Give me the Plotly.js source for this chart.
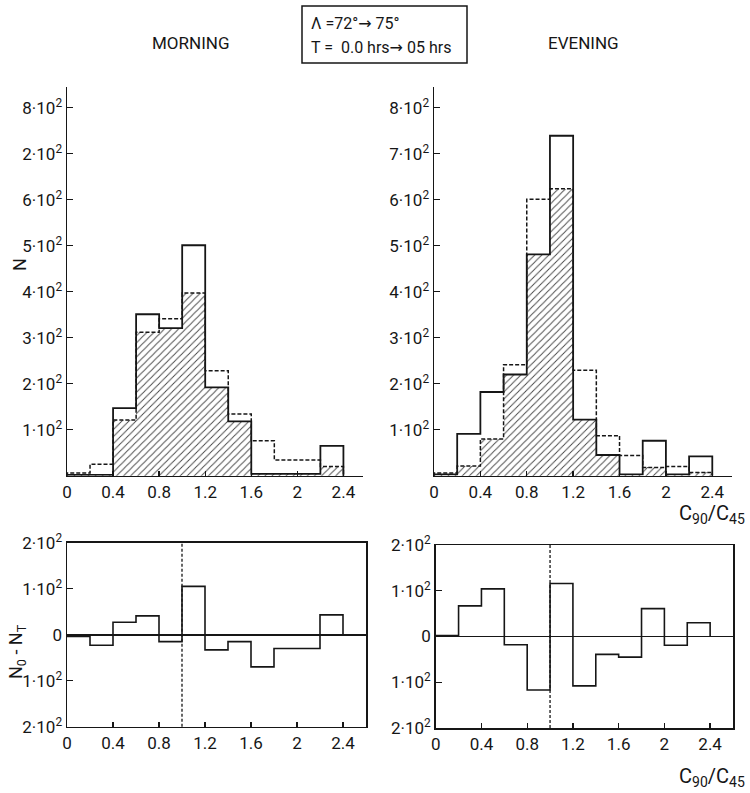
<!DOCTYPE html>
<html>
<head>
<meta charset="utf-8">
<script src="https://cdn.plot.ly/plotly-3.0.1.min.js"></script>
<style>html,body{margin:0;padding:0;background:#fff;}#chart{width:750px;height:793px;}</style>
</head>
<body>
<div id="chart"></div>
<script>
// ---- data ----
const binLeft = [0, 0.2, 0.4, 0.6, 0.8, 1.0, 1.2, 1.4, 1.6, 1.8, 2.0, 2.2];
const binWidth = 0.2;
const binEnd = 2.4;

const morningObserved    = [2, 2, 147, 351, 321, 501, 192, 118, 4, 4, 4, 65];
const morningTheoretical = [6, 25, 121, 312, 341, 397, 228, 134, 76, 34, 34, 20];
const morningOverlap     = [2, 2, 121, 312, 321, 397, 192, 118, 4, 4, 4, 20];

const eveningObserved    = [3, 91, 182, 220, 481, 739, 122, 45, 3, 76, 3, 42];
const eveningTheoretical = [6, 21, 80, 241, 601, 624, 229, 87, 44, 18, 20, 7];
const eveningOverlap     = [3, 21, 80, 220, 481, 624, 122, 45, 3, 18, 3, 7];

const morningDiff = [-4, -23, 27, 41, -15, 105, -33, -15, -70, -30, -30, 43];
const eveningDiff = [2, 67, 104, -18, -117, 116, -108, -39, -45, 61, -19, 30];

const referenceRatio = 1.0;

const xTickVals = [0, 0.4, 0.8, 1.2, 1.6, 2.0, 2.4];
const xTickText = ["0", "0.4", "0.8", "1.2", "1.6", "2", "2.4"];
const yTopVals = [100, 200, 300, 400, 500, 600, 700, 800];
const yTopTextMorning = ["1·10<sup>2</sup>", "2·10<sup>2</sup>", "3·10<sup>2</sup>", "4·10<sup>2</sup>", "5·10<sup>2</sup>", "6·10<sup>2</sup>", "2·10<sup>2</sup>", "8·10<sup>2</sup>"];
const yTopTextEvening = ["1·10<sup>2</sup>", "2·10<sup>2</sup>", "3·10<sup>2</sup>", "4·10<sup>2</sup>", "5·10<sup>2</sup>", "6·10<sup>2</sup>", "7·10<sup>2</sup>", "8·10<sup>2</sup>"];
const yBotVals = [-200, -100, 0, 100, 200];
const yBotText = ["2·10<sup>2</sup>", "1·10<sup>2</sup>", "0", "1·10<sup>2</sup>", "2·10<sup>2</sup>"];

// ---- helpers ----
const W = 750, H = 793;
const fx = p => p / W;
const fy = p => 1 - p / H;
const FONT = "Roboto, 'DejaVu Sans', sans-serif";
const INK = "#161616";

function stepX() { return [binLeft[0]].concat(binLeft).concat([binEnd]); }
function stepY(v) { return [0].concat(v).concat([0]); }

function hatchTrace(vals, xa, ya) {
  return {
    type: "bar", x: binLeft, y: vals, width: binWidth, offset: 0,
    xaxis: xa, yaxis: ya, showlegend: false, hoverinfo: "skip",
    marker: { color: "white", line: { width: 0 },
      pattern: { shape: "/", fgcolor: "#444", bgcolor: "white", size: 5, solidity: 0.18 } }
  };
}
function stepTrace(vals, xa, ya, dash, width) {
  return {
    type: "scatter", mode: "lines", x: stepX(), y: stepY(vals),
    xaxis: xa, yaxis: ya, showlegend: false, hoverinfo: "skip",
    line: { shape: "hv", color: INK, width: width, dash: dash }
  };
}

const data = [
  hatchTrace(morningOverlap, "x", "y"),
  stepTrace(morningTheoretical, "x", "y", "4px,2px", 1.5),
  stepTrace(morningObserved, "x", "y", "solid", 1.8),
  hatchTrace(eveningOverlap, "x2", "y2"),
  stepTrace(eveningTheoretical, "x2", "y2", "4px,2px", 1.5),
  stepTrace(eveningObserved, "x2", "y2", "solid", 1.8),
  stepTrace(morningDiff, "x3", "y3", "solid", 1.6),
  stepTrace(eveningDiff, "x4", "y4", "solid", 1.6)
];

const tickFont = { family: FONT, size: 17, color: INK };
function topX(domain, anchor) {
  return { domain: domain, anchor: anchor, range: [0, 2.57], showline: true, linecolor: INK, linewidth: 1.5,
    ticks: "inside", ticklen: 5, tickwidth: 1.3, tickcolor: INK, tickvals: xTickVals, ticktext: xTickText,
    tickfont: tickFont, showgrid: false, zeroline: false, fixedrange: true };
}
function topY(domain, anchor, text) {
  return { domain: domain, anchor: anchor, range: [0, 845], showline: true, linecolor: INK, linewidth: 1.5,
    ticks: "inside", ticklen: 6, tickwidth: 1.3, tickcolor: INK, tickvals: yTopVals, ticktext: text,
    tickfont: tickFont, showgrid: false, zeroline: false, fixedrange: true, ticklabelstandoff: 0 };
}
function botX(domain, anchor) {
  return { domain: domain, anchor: anchor, range: [0, 2.6], showline: true, mirror: true, linecolor: INK, linewidth: 1.5,
    ticks: "inside", ticklen: 5, tickwidth: 1.3, tickcolor: INK, tickvals: xTickVals, ticktext: xTickText,
    tickfont: tickFont, showgrid: false, zeroline: false, fixedrange: true };
}
function botY(domain, anchor) {
  return { domain: domain, anchor: anchor, range: [-200, 200], showline: true, mirror: true, linecolor: INK, linewidth: 1.5,
    ticks: "inside", ticklen: 6, tickwidth: 1.3, tickcolor: INK, tickvals: yBotVals, ticktext: yBotText,
    tickfont: tickFont, showgrid: false, zeroline: true, zerolinecolor: INK, zerolinewidth: 1.8, fixedrange: true,
    ticklabelstandoff: 0 };
}

const ann = (text, x, y, opts) => Object.assign({ text: text, x: fx(x), y: fy(y), xref: "paper", yref: "paper",
  showarrow: false, xanchor: "center", yanchor: "middle", font: { family: FONT, size: 17, color: INK } }, opts || {});

const layout = {
  width: W, height: H, margin: { l: 0, r: 0, t: 0, b: 0 },
  paper_bgcolor: "white", plot_bgcolor: "rgba(0,0,0,0)", showlegend: false, bargap: 0,
  xaxis: topX([fx(67), fx(363)], "y"),
  yaxis: topY([fy(475.7), fy(87)], "x", yTopTextMorning),
  xaxis2: topX([fx(434), fx(732)], "y2"),
  yaxis2: topY([fy(475.7), fy(87)], "x2", yTopTextEvening),
  xaxis3: botX([fx(67), fx(366)], "y3"),
  yaxis3: botY([fy(726.7), fy(542.7)], "x3"),
  xaxis4: botX([fx(435.7), fx(733)], "y4"),
  yaxis4: botY([fy(728), fy(545)], "x4"),
  shapes: [
    { type: "rect", xref: "paper", yref: "paper", x0: fx(302), x1: fx(467), y0: fy(63), y1: fy(6),
      line: { color: INK, width: 1.5 } },
    { type: "line", xref: "x3", yref: "y3 domain", x0: referenceRatio, x1: referenceRatio, y0: 0, y1: 1,
      line: { color: INK, width: 1.3, dash: "3px,2px" } },
    { type: "line", xref: "x4", yref: "y4 domain", x0: referenceRatio, x1: referenceRatio, y0: 0, y1: 1,
      line: { color: INK, width: 1.3, dash: "3px,2px" } }
  ],
  annotations: [
    ann("MORNING", 190, 43),
    ann("EVENING", 583, 43),
    ann("\u039B =72°\u2192 75°", 309, 23, { xanchor: "left", font: { family: FONT, size: 16, color: INK } }),
    ann("T =\u00a0\u00a00.0 hrs\u2192 05 hrs", 309, 47, { xanchor: "left", font: { family: FONT, size: 16, color: INK } }),
    ann("N", 19, 265, { textangle: -90, font: { family: FONT, size: 18, color: INK } }),
    ann("N<sub>0</sub> - N<sub>T</sub>", 17, 652, { textangle: -90, font: { family: FONT, size: 18, color: INK } }),
    ann("C<sub>90</sub>/C<sub>45</sub>", 712, 514, { font: { family: FONT, size: 20, color: INK } }),
    ann("C<sub>90</sub>/C<sub>45</sub>", 712, 777, { font: { family: FONT, size: 20, color: INK } })
  ]
};

Plotly.newPlot("chart", data, layout, { staticPlot: true, displayModeBar: false });
</script>
</body>
</html>
